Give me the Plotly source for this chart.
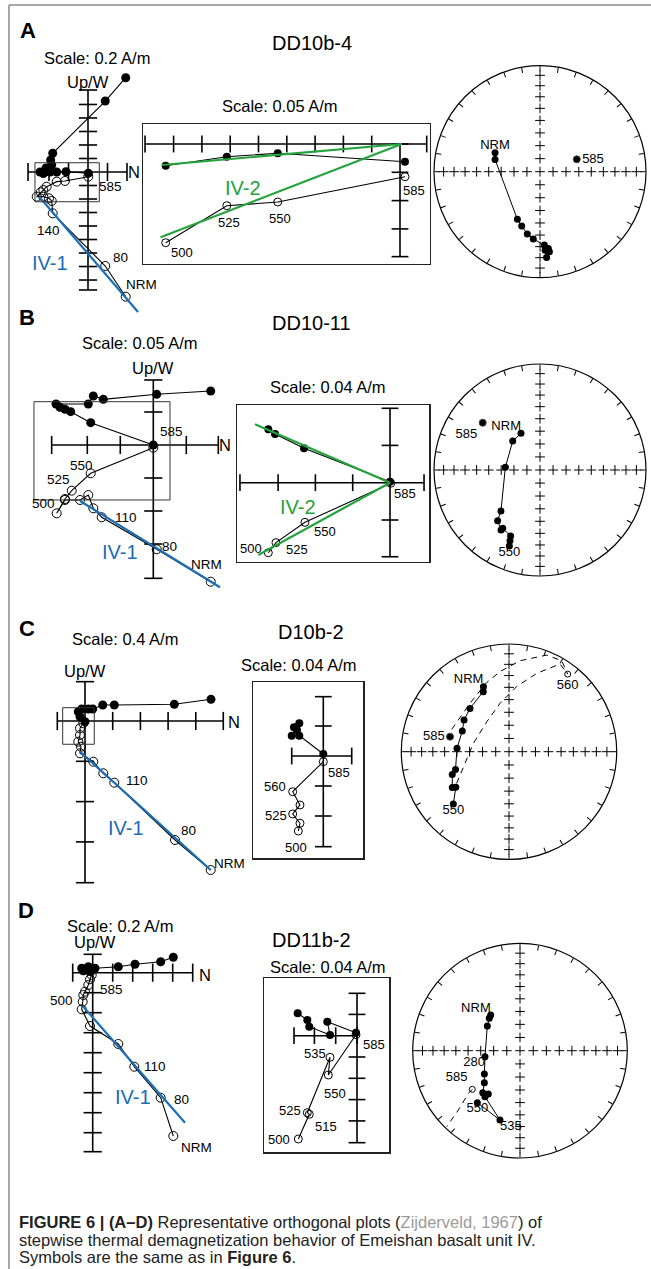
import numpy as np
import plotly.graph_objects as go

W, H = 651, 1269
FONT = "Liberation Sans, Arial, Helvetica, sans-serif"

# ======================= DATA (A/m, x = N, y = Up/W) =======================
# ---- Panel A : DD10b-4 ----
A_h_x = [0.387, 0.177, -0.362, -0.383, -0.372, -0.431, -0.492, -0.458, -0.390, -0.321, -0.226, 0.003]
A_h_y = [0.967, 0.728, 0.192, 0.123, 0.072, 0.041, 0.0, -0.015, 0.0, 0.0, 0.003, -0.013]
A_v_x = [0.387, 0.177, -0.362, -0.372, -0.400, -0.458, -0.526, -0.485, -0.458, -0.424, -0.321, -0.236, 0.003]
A_v_y = [-1.279, -0.964, -0.424, -0.297, -0.270, -0.253, -0.253, -0.208, -0.185, -0.151, -0.099, -0.092, -0.048]
A_v_steps = ['NRM', '80', '140', '', '', '', '', '', '', '', '', '', '585']
A_fit_x = [-0.500, 0.513]
A_fit_y = [-0.253, -1.436]

A_in_h_x = [-0.414, -0.306, -0.216, 0.0088]
A_in_h_y = [-0.0383, -0.0224, -0.0164, -0.0313]
A_in_v_x = [-0.414, -0.306, -0.216, 0.0088]
A_in_v_y = [-0.1744, -0.109, -0.1025, -0.0578]
A_in_steps = ['500', '525', '550', '585']
A_in_fit_h_x = [-0.421, 0.003]
A_in_fit_h_y = [-0.0371, 0.0]
A_in_fit_v_x = [-0.423, 0.003]
A_in_fit_v_y = [-0.1648, 0.0]

A_st_dec = [292.9, 285.3, 205.4, 198.6, 191.5, 185.7, 176.6, 173.8, 173.3, 175.6, 176.3]
A_st_inc = [52.0, 53.8, 48.8, 45.0, 39.8, 36.4, 31.3, 28.0, 25.0, 20.0, 26.7]
A_st_steps = ['NRM', '', '', '', '', '', '', '', '', '', '']
A_st_x_dec = [71.4]
A_st_x_inc = [60.0]
A_st_x_steps = ['585']

# ---- Panel B : DD10-11 ----
B_h_x = [0.087, 0.0052, -0.0758, -0.0909, -0.0985, -0.1474, -0.1414, -0.1338, -0.1252, -0.0948, 0.0]
B_h_y = [0.0818, 0.0768, 0.0692, 0.0742, 0.0621, 0.0621, 0.0571, 0.0541, 0.0505, 0.0338, 0.0]
B_v_x = [0.087, 0.0052, -0.0782, -0.0909, -0.0985, -0.111, -0.1338, -0.1464, -0.1338, -0.1236, -0.0948, 0.0]
B_v_y = [-0.2071, -0.158, -0.1095, -0.0959, -0.0758, -0.0833, -0.0833, -0.1035, -0.0818, -0.0692, -0.0429, -0.0041]
B_v_steps = ['NRM', '80', '110', '', '', '', '', '500', '', '525', '550', '585']
B_fit_x = [-0.111, 0.101]
B_fit_y = [-0.0848, -0.2156]

B_in_h_x = [-0.1305, -0.1233, -0.0922, 0.0]
B_in_h_y = [0.0573, 0.0522, 0.0369, 0.0011]
B_in_v_x = [-0.1305, -0.1223, -0.0912, 0.0008]
B_in_v_y = [-0.0751, -0.0643, -0.0425, -0.0006]
B_in_steps = ['500', '525', '550', '585']
B_in_fit_h_x = [-0.1448, 0.0]
B_in_fit_h_y = [0.0626, 0.0]
B_in_fit_v_x = [-0.1412, 0.0]
B_in_fit_v_y = [-0.0775, 0.0]

B_st_dec = [332.6, 316.7, 274.4, 223.6, 219.9, 213.0, 212.6, 204.0, 203.0, 202.0]
B_st_inc = [58.0, 59.2, 63.2, 45.6, 37.7, 33.0, 35.0, 32.4, 28.4, 23.8]
B_st_steps = ['NRM', '', '', '', '', '', '', '', '', '550']
B_st_x_dec = [309.5]
B_st_x_inc = [30.6]
B_st_x_steps = ['585']

# ---- Panel C : D10b-2 ----
C_h_x = [1.819, 1.29, 0.423, 0.256, 0.111, 0.048, -0.048, -0.097, -0.072, 0.0]
C_h_y = [0.313, 0.241, 0.231, 0.231, 0.173, 0.173, 0.173, 0.134, 0.062, -0.01]
C_v_x = [1.815, 1.3, 0.423, 0.264, 0.12, -0.072, -0.058, -0.097, -0.072, -0.072, -0.025]
C_v_y = [-2.152, -1.718, -0.891, -0.755, -0.588, -0.466, -0.371, -0.299, -0.202, -0.105, -0.033]
C_v_steps = ['NRM', '80', '110', '', '', '', '', '', '', '', '']
C_fit_x = [-0.072, 1.815]
C_fit_y = [-0.443, -2.152]

C_in_h_x = [-0.032, -0.0391, -0.0351, -0.0421, -0.032, 0.0]
C_in_h_y = [0.0436, 0.0383, 0.0347, 0.0271, 0.0271, 0.0027]
C_in_v_x = [-0.0333, -0.0311, -0.0408, -0.0311, -0.0408, 0.0]
C_in_v_y = [-0.1, -0.0897, -0.0773, -0.0653, -0.0476, -0.0076]
C_in_steps = ['500', '', '525', '', '560', '585']

C_st_dec = [338.5, 336.8, 318.0, 305.1, 293.9, 273.7, 251.7, 248.2, 237.8, 236.2, 226.8]
C_st_inc = [35.4, 39.2, 45.0, 47.7, 50.8, 50.0, 46.6, 42.7, 37.8, 40.3, 29.8]
C_st_steps = ['NRM', '', '', '', '', '', '', '', '', '', '550']
C_st_x_dec = [284.3]
C_st_x_inc = [42.9]
C_st_x_steps = ['585']
C_st_up_dec = [37.1]
C_st_up_inc = [-10.6]
C_st_up_steps = ['560']
C_gc1_dec = [291.3, 321.1, 342.1, 353.6, 6.9, 21.3, 30.1, 37.1]
C_gc1_inc = [42.4, 41.8, 33.0, 26.1, 16.0, 4.2, 2.7, 10.6]
C_gc2_dec = [238.8, 255.1, 283.2, 323.3, 349.5, 6.7, 19.5, 30.2, 37.1]
C_gc2_inc = [42.6, 55.2, 62.2, 61.7, 52.3, 39.0, 23.8, 6.5, 10.6]

# ---- Panel D : DD11b-2 ----
D_h_x = [0.806, 0.68, 0.423, 0.256, 0.023, -0.044, -0.11, -0.094, -0.067, -0.02]
D_h_y = [0.154, 0.11, 0.084, 0.06, 0.044, 0.06, 0.044, 0.02, 0.027, 0.01]
D_v_x = [0.806, 0.68, 0.416, 0.256, -0.027, -0.11, -0.1, -0.094, -0.077, -0.044, -0.027, -0.01]
D_v_y = [-1.633, -1.25, -0.94, -0.713, -0.533, -0.366, -0.29, -0.223, -0.19, -0.123, -0.066, -0.023]
D_v_steps = ['NRM', '80', '110', '', '', '', '500', '', '', '', '', '585']
D_fit_x = [-0.1, 0.923]
D_fit_y = [-0.333, -1.5]

D_in_h_x = [-0.1114, -0.0933, -0.0896, -0.0507, -0.0558, -0.0019]
D_in_h_y = [0.0421, 0.0295, 0.0169, 0.0013, 0.0263, 0.0056]
D_in_v_x = [-0.1102, -0.0896, -0.0933, -0.0507, -0.0539, -0.0019]
D_in_v_y = [-0.194, -0.1476, -0.1446, -0.0406, -0.0738, 0.0019]
D_in_steps = ['500', '515', '525', '535', '550', '585']

D_st_dec = [320.6, 316.5, 307.0, 260.3, 236.8, 228.1, 221.6, 216.2, 217.3, 196.1, 219.4]
D_st_inc = [54.6, 55.8, 58.7, 62.9, 57.4, 53.2, 46.6, 48.6, 45.2, 33.2, 37.4]
D_st_steps = ['NRM', '', '', '280', '', '', '', '', '', '535', '550']
D_st_up_dec = [231.0]
D_st_up_inc = [-42.3]
D_st_up_steps = ['585']
D_gc_dec = [231.0, 230.4, 226.1, 224.0]
D_gc_inc = [42.3, 37.6, 21.4, 1.8]

# ======================= LAYOUT / STYLE =======================
BLUE = '#1b6db5'
GREEN = '#23a33c'

fig = go.Figure()
layout = dict(width=W, height=H, margin=dict(l=0, r=0, t=0, b=0),
              paper_bgcolor='white', plot_bgcolor='rgba(0,0,0,0)',
              showlegend=False, font=dict(family=FONT, color='black'))
annotations = []
shapes = []


def ptext(x, y, text, size, color='black', bold=False, xanchor='center'):
    if bold:
        text = '<b>' + text + '</b>'
    annotations.append(dict(xref='paper', yref='paper', x=x / W, y=1 - y / H, text=text,
                            showarrow=False, xanchor=xanchor, yanchor='middle',
                            font=dict(size=size, color=color, family=FONT)))


def tick_list(e0, e1, step):
    out = [e0, e1]
    k = 1
    while k * step < e1 - 0.35 * step:
        out.append(k * step)
        k += 1
    k = 1
    while -k * step > e0 + 0.35 * step:
        out.append(-k * step)
        k += 1
    return out


def zij(cfg, hx, hy, vx, vy, steps, fits, offs):
    n = cfg['n']
    sfx = '' if n == 1 else str(n)
    xr, yr = 'x' + sfx, 'y' + sfx
    x0, y0, x1, y1 = cfg['box']
    ox, oy = cfg['origin']
    ppu = cfg['ppu']
    xa = dict(domain=[x0 / W, x1 / W], range=[(x0 - ox) / ppu, (x1 - ox) / ppu], anchor=yr,
              showgrid=False, zeroline=False, showticklabels=False, ticks='', fixedrange=True)
    ya = dict(domain=[1 - y1 / H, 1 - y0 / H], range=[(oy - y1) / ppu, (oy - y0) / ppu], anchor=xr,
              showgrid=False, zeroline=False, showticklabels=False, ticks='', fixedrange=True)
    if cfg.get('frame'):
        xa.update(showline=True, mirror=True, linecolor='#222', linewidth=1.2)
        ya.update(showline=True, mirror=True, linecolor='#222', linewidth=1.2)
    else:
        xa['visible'] = False
        ya['visible'] = False
    layout['xaxis' + sfx] = xa
    layout['yaxis' + sfx] = ya
    xe0, xe1 = cfg['xext']
    ye0, ye1 = cfg['yext']
    aw = cfg.get('aw', 1.6)
    fig.add_trace(go.Scatter(x=[xe0, xe1, None, 0, 0], y=[0, 0, None, ye0, ye1], mode='lines',
                             line=dict(color='black', width=aw), xaxis=xr, yaxis=yr, hoverinfo='skip'))
    xt = tick_list(xe0, xe1, cfg['xt']) if cfg.get('xticks', True) else [xe0, xe1]
    yt = tick_list(ye0, ye1, cfg['yt'])
    fig.add_trace(go.Scatter(x=xt, y=[0] * len(xt), mode='markers', cliponaxis=False,
                             marker=dict(symbol='line-ns', size=cfg['tl'], line=dict(width=aw, color='black')),
                             xaxis=xr, yaxis=yr, hoverinfo='skip'))
    fig.add_trace(go.Scatter(x=[0] * len(yt), y=yt, mode='markers', cliponaxis=False,
                             marker=dict(symbol='line-ew', size=cfg['tl'], line=dict(width=aw, color='black')),
                             xaxis=xr, yaxis=yr, hoverinfo='skip'))
    ms = cfg['ms']
    fig.add_trace(go.Scatter(x=vx, y=vy, mode='lines+markers', cliponaxis=False,
                             line=dict(color='black', width=1.1),
                             marker=dict(symbol='circle-open', size=ms, color='black', line=dict(width=1)),
                             xaxis=xr, yaxis=yr))
    fig.add_trace(go.Scatter(x=hx, y=hy, mode='lines+markers', cliponaxis=False,
                             line=dict(color='black', width=1.1),
                             marker=dict(symbol='circle', size=ms, color='black'),
                             xaxis=xr, yaxis=yr))
    for fx, fy, col in fits:
        fig.add_trace(go.Scatter(x=fx, y=fy, mode='lines', line=dict(color=col, width=2.2),
                                 xaxis=xr, yaxis=yr, hoverinfo='skip'))
    for i, lab in enumerate(steps):
        if lab:
            dx, dy = offs[lab]
            annotations.append(dict(xref=xr, yref=yr, x=vx[i], y=vy[i], text=lab, showarrow=False,
                                    xshift=dx, yshift=dy, font=dict(size=cfg['fs'], family=FONT)))
    return xr, yr


def ea(inc):
    inc = np.abs(np.asarray(inc, dtype=float))
    return np.sqrt(2) * np.sin(np.radians(90 - inc) / 2)


def stereo(pid, center, R, dec, inc, steps, pos, extras):
    cx, cy = center
    layout[pid] = dict(domain=dict(x=[(cx - R) / W, (cx + R) / W], y=[1 - (cy + R) / H, 1 - (cy - R) / H]),
                       bgcolor='rgba(0,0,0,0)',
                       radialaxis=dict(range=[0, 1], visible=False, showgrid=False),
                       angularaxis=dict(rotation=90, direction='clockwise', tickmode='linear', tick0=0, dtick=10,
                                        ticks='inside', ticklen=5, tickwidth=1, tickcolor='black',
                                        showticklabels=False, showgrid=False, showline=True,
                                        linecolor='black', linewidth=1.2))
    cr, ct = [0.0], [0]
    for th in (0, 90, 180, 270):
        for ii in range(10, 90, 10):
            cr.append(float(ea(ii)))
            ct.append(th)
    fig.add_trace(go.Scatterpolar(r=cr, theta=ct, mode='markers', subplot=pid, hoverinfo='skip',
                                  marker=dict(symbol='cross-thin', size=7, line=dict(width=1, color='black'))))
    for ed, ei, kind, sp, spos in extras:
        if kind == 'dash':
            fig.add_trace(go.Scatterpolar(r=ea(ei), theta=ed, mode='lines', subplot=pid,
                                          line=dict(color='black', width=1, dash='6px,5px')))
    fig.add_trace(go.Scatterpolar(r=ea(inc), theta=dec, mode='lines+markers', subplot=pid,
                                  line=dict(color='black', width=1),
                                  marker=dict(symbol='circle', size=7, color='black')))
    fig.add_trace(go.Scatterpolar(r=ea(inc), theta=dec, mode='text', subplot=pid, text=steps,
                                  textposition=pos, textfont=dict(size=13, family=FONT)))
    for ed, ei, kind, sp, spos in extras:
        if kind in ('dot', 'open'):
            fig.add_trace(go.Scatterpolar(r=ea(ei), theta=ed, mode='markers+text', subplot=pid,
                                          text=sp, textposition=spos, textfont=dict(size=13, family=FONT),
                                          marker=dict(symbol='circle' if kind == 'dot' else 'circle-open',
                                                      size=7 if kind == 'dot' else 6, color='black',
                                                      line=dict(width=1))))


# ---------- Panel A ----------
zij(dict(n=1, box=(12, 62, 218, 318), origin=(88, 172), ppu=97.5, xt=0.2, yt=0.1385,
         xext=(-0.615, 0.4), yext=(-1.21, 0.841), tl=13, ms=9, fs=13.5),
    A_h_x, A_h_y, A_v_x, A_v_y, A_v_steps, [(A_fit_x, A_fit_y, BLUE)],
    {'NRM': (16, 12), '80': (15, 8), '140': (-4, -17), '585': (22, -10)})
shapes.append(dict(type='rect', xref='x', yref='y', x0=-0.544, x1=0.116, y0=-0.305, y1=0.095,
                   line=dict(color='#333', width=1)))
zij(dict(n=2, box=(142.7, 124, 430, 264), origin=(400, 144), ppu=566, xt=0.05, yt=0.05,
         xext=(-0.4505, 0.0472), yext=(-0.199, 0.0), tl=12, ms=8, fs=13, frame=True),
    A_in_h_x, A_in_h_y, A_in_v_x, A_in_v_y, A_in_steps,
    [(A_in_fit_h_x, A_in_fit_h_y, GREEN), (A_in_fit_v_x, A_in_fit_v_y, GREEN)],
    {'500': (16, -10), '525': (2, -17), '550': (2, -16), '585': (9, -14)})
stereo('polar', (540, 171.7), 106, A_st_dec, A_st_inc, A_st_steps,
       ['top center'] + ['middle right'] * 10,
       [(A_st_x_dec, A_st_x_inc, 'dot', A_st_x_steps, 'middle right')])

# ---------- Panel B ----------
zij(dict(n=3, box=(12, 372, 232, 596), origin=(153.3, 445), ppu=660, xt=0.05, yt=0.05,
         xext=(-0.154, 0.0985), yext=(-0.202, 0.0985), tl=13, ms=9, fs=13.5),
    B_h_x, B_h_y, B_v_x, B_v_y, B_v_steps, [(B_fit_x, B_fit_y, BLUE)],
    {'NRM': (-4, 17), '80': (13, 3), '110': (24, 0), '500': (-13, 10), '525': (-13, 11),
     '550': (-9, 8), '585': (18, 16)})
shapes.append(dict(type='rect', xref='x3', yref='y3', x0=-0.1808, x1=0.0253, y0=-0.0833, y1=0.0656,
                   line=dict(color='#333', width=1)))
zij(dict(n=4, box=(236.7, 405, 429.3, 561.7), origin=(390, 482.7), ppu=932.5, xt=0.04, yt=0.04,
         xext=(-0.1609, 0.0365), yext=(-0.0794, 0.0798), tl=12, ms=8, fs=13, frame=True),
    B_in_h_x, B_in_h_y, B_in_v_x, B_in_v_y, B_in_steps,
    [(B_in_fit_h_x, B_in_fit_h_y, GREEN), (B_in_fit_v_x, B_in_fit_v_y, GREEN)],
    {'500': (-17, 4), '525': (21, -7), '550': (20, -9), '585': (14, -10)})
stereo('polar2', (540, 470), 106, B_st_dec, B_st_inc, B_st_steps,
       ['top left'] + ['middle right'] * 8 + ['bottom center'],
       [(B_st_x_dec, B_st_x_inc, 'dot', B_st_x_steps, 'bottom left')])

# ---------- Panel C ----------
zij(dict(n=5, box=(12, 676, 245, 892), origin=(85, 721), ppu=69.25, xt=0.4, yt=0.582,
         xext=(-0.4, 1.997), yext=(-2.335, 0.568), tl=13, ms=9, fs=13.5),
    C_h_x, C_h_y, C_v_x, C_v_y, C_v_steps, [(C_fit_x, C_fit_y, BLUE)],
    {'NRM': (19, 7), '80': (13, 9), '110': (23, 2)})
shapes.append(dict(type='rect', xref='x5', yref='y5', x0=-0.322, x1=0.134, y0=-0.336, y1=0.192,
                   line=dict(color='#333', width=1)))
zij(dict(n=6, box=(253.3, 681.7, 363.3, 858.3), origin=(323.3, 756), ppu=750, xt=0.04, yt=0.04,
         xext=(-0.0421, 0.0379), yext=(-0.1209, 0.0791), tl=12, ms=8, fs=13, frame=True, xticks=False),
    C_in_h_x, C_in_h_y, C_in_v_x, C_in_v_y, C_in_steps, [],
    {'585': (16, -11), '560': (-18, 5), '525': (-17, -2), '500': (-2, -16)})
stereo('polar3', (509, 751.7), 107.7, C_st_dec, C_st_inc, C_st_steps,
       ['top left'] + ['middle right'] * 9 + ['bottom center'],
       [(C_gc1_dec, C_gc1_inc, 'dash', None, None), (C_gc2_dec, C_gc2_inc, 'dash', None, None),
        (C_st_x_dec, C_st_x_inc, 'dot', C_st_x_steps, 'middle left'),
        (C_st_up_dec, C_st_up_inc, 'open', C_st_up_steps, 'bottom center')])

# ---------- Panel D ----------
zij(dict(n=7, box=(12, 945, 215, 1160), origin=(92.7, 972.7), ppu=100, xt=0.2, yt=0.2,
         xext=(-0.2, 1.0), yext=(-1.79, 0.184), tl=13, ms=9, fs=13.5),
    D_h_x, D_h_y, D_v_x, D_v_y, D_v_steps, [(D_fit_x, D_fit_y, BLUE)],
    {'NRM': (23, -11), '80': (21, -2), '110': (21, 0), '500': (-21, 1), '585': (20, -14)})
zij(dict(n=8, box=(264, 978.3, 389.3, 1152.3), origin=(357, 1035.7), ppu=532.5, xt=0.04, yt=0.04,
         xext=(-0.1183, 0.0), yext=(-0.2009, 0.0796), tl=12, ms=8, fs=13, frame=True),
    D_in_h_x, D_in_h_y, D_in_v_x, D_in_v_y, D_in_steps, [],
    {'500': (-19, 0), '515': (17, -12), '525': (-17, 2), '535': (-15, 4), '550': (7, -18), '585': (18, -10)})
stereo('polar4', (520, 1050.7), 107.3, D_st_dec, D_st_inc, D_st_steps,
       ['top left', 'middle right', 'middle right', 'bottom left', 'middle right', 'middle right',
        'middle right', 'middle right', 'middle right', 'bottom right', 'bottom center'],
       [(D_gc_dec, D_gc_inc, 'dash', None, None),
        (D_st_up_dec, D_st_up_inc, 'open', D_st_up_steps, 'top left')])

# ---------- texts ----------
for lab, x, y in [('A', 28, 30), ('B', 27, 318), ('C', 27, 628), ('D', 26, 910)]:
    ptext(x, y, lab, 22, bold=True)
for t, x, y in [('DD10b-4', 312, 43), ('DD10-11', 311, 323), ('D10b-2', 311, 632), ('DD11b-2', 311, 940)]:
    ptext(x, y, t, 20)
for t, x, y in [('Scale: 0.2 A/m', 97, 58), ('Scale: 0.05 A/m', 280, 106),
                ('Scale: 0.05 A/m', 140, 343), ('Scale: 0.04 A/m', 328, 387),
                ('Scale: 0.4 A/m', 125, 639), ('Scale: 0.04 A/m', 299, 665),
                ('Scale: 0.2 A/m', 120, 926), ('Scale: 0.04 A/m', 328, 967)]:
    ptext(x, y, t, 16.5)
for x, y in [(88, 82), (153, 368), (85, 671), (95, 942)]:
    ptext(x, y, 'Up/W', 16.5)
for x, y in [(134, 172), (225, 445), (234, 722), (205, 975)]:
    ptext(x, y, 'N', 16.5)
for t, x, y, c in [('IV-1', 50, 263, BLUE), ('IV-2', 243, 188, GREEN), ('IV-1', 120, 552, BLUE),
                   ('IV-2', 298, 507, GREEN), ('IV-1', 126, 828, BLUE), ('IV-1', 133, 1097, BLUE)]:
    ptext(x, y, t, 20, color=c)

caption_lines = [
    ("<b>FIGURE 6 | (A–D)</b> Representative orthogonal plots "
     "(<span style='color:#9a9a9a'>Zijderveld, 1967</span>) of", 1222),
    ("stepwise thermal demagnetization behavior of Emeishan basalt unit IV.", 1240),
    ("Symbols are the same as in <b>Figure 6</b>.", 1257),
]
for txt, yy in caption_lines:
    annotations.append(dict(xref='paper', yref='paper', x=17 / W, y=1 - yy / H, text=txt, showarrow=False,
                            xanchor='left', yanchor='middle', align='left',
                            font=dict(size=16.5, color='#222', family=FONT)))

shapes.append(dict(type='line', xref='paper', yref='paper', x0=9 / W, x1=9 / W, y0=0, y1=1 - 5 / H,
                   line=dict(color='#8a8a8a', width=1.5)))
shapes.append(dict(type='line', xref='paper', yref='paper', x0=9 / W, x1=1, y0=1 - 5 / H, y1=1 - 5 / H,
                   line=dict(color='#8a8a8a', width=1.5)))

layout['annotations'] = annotations
layout['shapes'] = shapes
layout['hovermode'] = False
fig.update_layout(**layout)
fig.write_html("out.html", config={'displayModeBar': False, 'staticPlot': True},
               post_script="document.body.style.margin='0';document.body.style.overflow='hidden';")
